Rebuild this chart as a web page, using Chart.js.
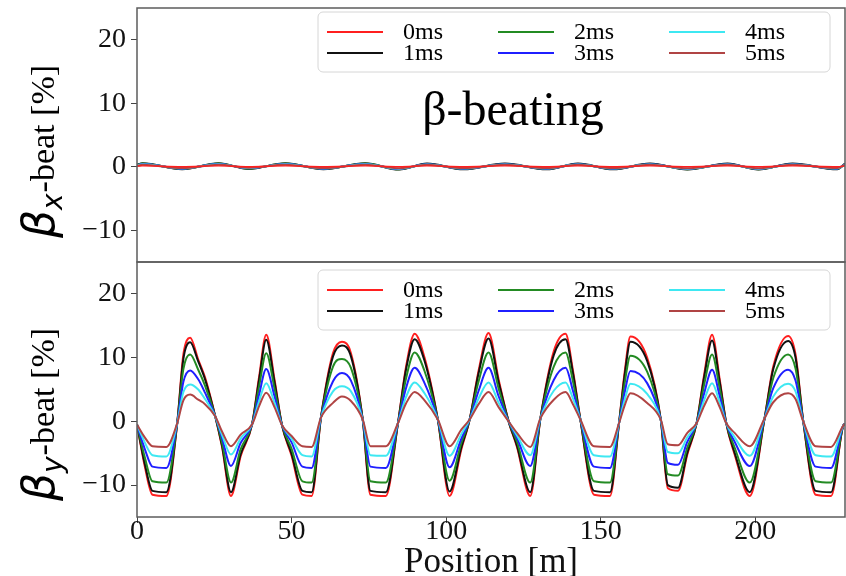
<!DOCTYPE html>
<html>
<head>
<meta charset="utf-8">
<script src="https://cdn.jsdelivr.net/npm/chart.js@4.4.0/dist/chart.umd.min.js"></script>
<style>
  html, body { margin: 0; padding: 0; background: #fff; }
  #wrap { position: relative; width: 846px; height: 576px; }
  #wrap canvas { position: absolute; left: 0; top: 0; }
</style>
</head>
<body>
<div id="wrap">
  <canvas id="topChart" width="846" height="576"></canvas>
  <canvas id="bottomChart" width="846" height="576"></canvas>
</div>
<script>
const seriesLabels = ['0ms', '1ms', '2ms', '3ms', '4ms', '5ms'];
const seriesColors = ['#ff1f1f', '#111111', '#238b23', '#1f1fff', '#3ee8f2', '#b04444'];
const xTicks = [0, 50, 100, 150, 200];
const yTicks = [-10, 0, 10, 20];

// top panel: horizontal beta-beating
const topPositions = [0, 1.8, 14.6, 26.4, 36.1, 48, 60.3, 73.8, 84.8, 93.8, 105.6, 119, 132.5, 142.6, 154, 165.9, 178, 191, 201, 212, 226.5, 229];
const betaX0ms = [0.1, 0.15, 0, 0.15, 0, 0.15, 0, 0.15, 0, 0.15, 0, 0.15, 0, 0.15, 0, 0.15, 0, 0.15, 0, 0.15, 0, 0.15];
const betaX1ms = [0.3, 0.55, -0.4, 0.55, -0.35, 0.55, -0.4, 0.55, -0.45, 0.5, -0.4, 0.5, -0.4, 0.5, -0.4, 0.5, -0.45, 0.5, -0.45, 0.5, -0.4, 0.5];
const betaX2ms = [0.3, 0.5, -0.35, 0.5, -0.3, 0.5, -0.35, 0.5, -0.4, 0.45, -0.35, 0.45, -0.35, 0.45, -0.35, 0.45, -0.4, 0.45, -0.4, 0.45, -0.35, 0.45];
const betaX3ms = [0.25, 0.45, -0.3, 0.45, -0.25, 0.45, -0.3, 0.45, -0.35, 0.4, -0.3, 0.4, -0.3, 0.4, -0.3, 0.4, -0.35, 0.4, -0.35, 0.4, -0.3, 0.4];
const betaX4ms = [0.2, 0.4, -0.25, 0.4, -0.2, 0.4, -0.25, 0.4, -0.3, 0.35, -0.25, 0.35, -0.25, 0.35, -0.25, 0.35, -0.3, 0.35, -0.3, 0.35, -0.25, 0.35];
const betaX5ms = [0.15, 0.3, -0.2, 0.3, -0.15, 0.3, -0.2, 0.3, -0.25, 0.3, -0.2, 0.3, -0.2, 0.3, -0.2, 0.3, -0.25, 0.3, -0.25, 0.3, -0.2, 0.3];

// bottom panel: vertical beta-beating
const bottomPositions = [0, 2.5, 5, 9.5, 13, 15, 17.2, 19.8, 22, 25.3, 27.5, 30.4, 33.5, 37.2, 39.5, 41.8, 44.5, 46.9, 50, 53.5,
  56.5, 59.5, 63.4, 66.3, 69.2, 73, 75.5, 80.5, 84.4, 87, 89.8, 93, 97.3, 101.1, 104.9, 107.6, 110.5, 113.7, 117, 120.2,
  122.9, 127.2, 130.5, 134.8, 138.6, 141, 143.4, 147.8, 153, 155.9, 157.8, 159.6, 165, 169.4, 171.7, 175, 178, 181, 183.5, 186,
  188.5, 190.6, 193.3, 198.2, 203, 205.8, 210.6, 213, 215.5, 219.5, 224.5, 228.4, 229];
const betaY0ms = [-0.5, -7.0, -11.5, -11.7, -0.3, 10.5, 13.1, 9.7, 6.9, 0.8, -4.0, -11.7, -5.5, -0.5, 7.0, 13.6, 6.5, -0.6, -5.4, -11.5,
  -11.7, 0.6, 10.7, 12.5, 10.7, 0.3, -11.5, -11.7, -0.3, 8.5, 13.75, 10.0, 0.3, -11.7, -4.4, 0.3, 8.0, 13.85, 6.5, 0,
  -4.0, -11.7, 0.5, 11.0, 13.75, 8.0, 0.3, -11.5, -11.7, -0.3, 8.0, 13.3, 10.0, 0.3, -10.5, -10.9, -5.2, -0.3, 7.5, 13.6,
  6.5, -0.3, -5.2, -11.7, 0.5, 8.6, 13.4, 10.5, 0, -11.5, -11.7, -0.7, -0.4];
const betaY1ms = [-0.5, -6.6, -10.9, -11.1, -0.3, 9.8, 12.4, 9.4, 6.6, 0.8, -3.8, -11.1, -5.2, -0.5, 6.6, 12.8, 6.1, -0.6, -5.1, -10.9,
  -11.1, 0.6, 10.2, 11.9, 10.2, 0.3, -10.9, -11.1, -0.3, 8.1, 12.9, 9.5, 0.3, -11.0, -4.1, 0.3, 7.6, 13.0, 6.1, 0,
  -3.8, -11.1, 0.5, 10.4, 12.9, 7.6, 0.3, -10.9, -11.1, -0.3, 7.5, 12.5, 9.5, 0.3, -10.0, -10.4, -4.9, -0.3, 7.1, 12.7,
  6.1, -0.3, -4.9, -11.1, 0.5, 8.2, 12.6, 10.0, 0, -10.9, -11.1, -0.7, -0.4];
const betaY2ms = [-0.5, -5.6, -9.4, -9.6, -0.3, 8.2, 10.5, 8.1, 5.6, 0.8, -3.3, -9.6, -4.4, -0.5, 5.5, 10.7, 5.1, -0.6, -4.3, -9.4,
  -9.6, 0.6, 8.6, 9.8, 8.4, 0.3, -9.4, -9.6, -0.3, 6.7, 10.8, 7.9, 0.3, -9.3, -3.4, 0.3, 6.3, 10.8, 5.1, 0,
  -3.2, -9.6, 0.5, 8.6, 10.8, 6.3, 0.3, -9.4, -9.6, -0.3, 6.2, 10.3, 7.8, 0.3, -8.3, -8.5, -4.1, -0.3, 5.9, 10.5,
  5.1, -0.3, -4.1, -9.6, 0.5, 6.8, 10.5, 8.3, 0, -9.4, -9.6, -0.7, -0.4];
const betaY3ms = [-0.5, -4.3, -7.1, -7.3, -0.3, 6.2, 8.0, 6.6, 4.5, 0.8, -2.6, -7.0, -3.4, -0.5, 4.2, 8.2, 3.9, -0.6, -3.3, -7.1,
  -7.3, 0.6, 6.3, 7.6, 6.4, 0.3, -7.1, -7.3, -0.3, 5.2, 8.4, 6.0, 0.3, -7.2, -2.7, 0.3, 4.8, 8.4, 3.9, 0,
  -2.6, -7.0, 0.5, 6.5, 8.4, 4.8, 0.3, -7.1, -7.3, -0.3, 4.7, 7.9, 6.0, 0.3, -6.5, -6.8, -3.2, -0.3, 4.5, 8.1,
  3.9, -0.3, -3.2, -7.0, 0.5, 5.2, 8.1, 6.4, 0, -7.1, -7.3, -0.7, -0.4];
const betaY4ms = [-0.5, -3.3, -5.3, -5.5, -0.3, 4.6, 5.8, 5.0, 3.5, 0.8, -2.1, -5.2, -2.7, -0.5, 3.2, 6.0, 2.9, -0.6, -2.7, -5.3,
  -5.5, 0.6, 4.7, 5.5, 4.7, 0.3, -5.3, -5.4, -0.3, 3.8, 6.1, 4.4, 0.3, -5.4, -2.0, 0.3, 3.6, 6.1, 2.9, 0,
  -2.2, -5.3, 0.5, 4.8, 6.1, 3.6, 0.3, -5.3, -5.5, -0.3, 3.5, 5.9, 4.3, 0.3, -4.8, -5.0, -2.5, -0.3, 3.4, 6.0,
  2.9, -0.3, -2.5, -5.4, 0.5, 3.9, 5.9, 4.7, 0, -5.3, -5.5, -0.7, -0.4];
const betaY5ms = [-0.5, -2.5, -3.9, -4.0, -0.3, 3.3, 4.2, 3.4, 2.7, 0.8, -1.6, -3.9, -2.1, -0.5, 2.4, 4.5, 2.2, -0.6, -2.3, -3.9,
  -4.0, 0.6, 2.9, 3.9, 3.2, 0.3, -3.9, -3.9, -0.3, 2.8, 4.6, 3.3, 0.3, -3.9, -1.3, 0.3, 2.7, 4.6, 2.2, 0,
  -1.8, -4.0, 0.5, 3.4, 4.6, 2.7, 0.3, -3.9, -4.0, -0.3, 2.6, 4.4, 2.9, 0.3, -3.6, -3.75, -1.8, -0.3, 2.5, 4.4,
  2.2, -0.3, -1.8, -3.9, 0.5, 3.0, 4.4, 3.5, 0, -3.9, -4.0, -0.7, -0.4];

const topSeries = [betaX0ms, betaX1ms, betaX2ms, betaX3ms, betaX4ms, betaX5ms];
const bottomSeries = [betaY0ms, betaY1ms, betaY2ms, betaY3ms, betaY4ms, betaY5ms];

const SERIF = '"Liberation Serif", "Times New Roman", serif';

function makeDatasets(positions, series, orders, widths) {
  return series.map((vals, i) => ({
    label: seriesLabels[i],
    data: positions.map((x, j) => ({ x: x, y: vals[j] })),
    borderColor: seriesColors[i],
    backgroundColor: seriesColors[i],
    borderWidth: widths[i],
    pointRadius: 0,
    cubicInterpolationMode: 'monotone',
    order: orders[i]
  }));
}

function fmtTick(v) {
  return v < 0 ? '\u2212' + Math.abs(v) : String(v);
}

function drawYTitle(ctx, cx, cy, sub) {
  ctx.save();
  ctx.translate(cx, cy);
  ctx.rotate(-Math.PI / 2);
  const fB = 'italic 44px "DejaVu Sans"';
  const fS = 'italic 28px "DejaVu Sans"';
  const fR = '34px ' + SERIF;
  ctx.font = fB; const wB = ctx.measureText('\u03b2').width;
  ctx.font = fS; const wS = ctx.measureText(sub).width;
  ctx.font = fR; const wR = ctx.measureText('-beat [%]').width;
  let x = -(wB + wS + wR) / 2;
  ctx.fillStyle = '#000';
  ctx.textBaseline = 'alphabetic';
  ctx.textAlign = 'left';
  ctx.font = fB; ctx.fillText('\u03b2', x, 12); x += wB;
  ctx.font = fS; ctx.fillText(sub, x, 20); x += wS + 1;
  ctx.font = fR; ctx.fillText('-beat [%]', x, 12);
  ctx.restore();
}

// frame, in-axes legend, panel text
const panelDecor = {
  id: 'panelDecor',
  afterDraw(chart, args, opts) {
    const { ctx, chartArea: a } = chart;
    ctx.save();
    ctx.strokeStyle = '#5c5c5c';
    ctx.lineWidth = 1.5;
    ctx.strokeRect(a.left, a.top, a.right - a.left, a.bottom - a.top);

    const bx = a.left + 181, by = a.top + opts.legendTop, bw = 512, bh = 60;
    ctx.beginPath();
    ctx.roundRect(bx, by, bw, bh, 5);
    ctx.fillStyle = 'rgba(255,255,255,0.85)';
    ctx.fill();
    ctx.strokeStyle = '#d6d6d6';
    ctx.lineWidth = 1;
    ctx.stroke();

    ctx.font = '24px ' + SERIF;
    ctx.textBaseline = 'middle';
    ctx.textAlign = 'left';
    chart.data.datasets.forEach((ds, i) => {
      const col = Math.floor(i / 2), row = i % 2;
      const ly = by + 20 + row * 21;
      const lx = bx + 9 + col * 171;
      ctx.strokeStyle = ds.borderColor;
      ctx.lineWidth = 2;
      ctx.beginPath();
      ctx.moveTo(lx, ly);
      ctx.lineTo(lx + 56, ly);
      ctx.stroke();
      ctx.fillStyle = '#000';
      ctx.fillText(ds.label, bx + 85 + col * 171, ly + 1);
    });

    if (opts.title) {
      ctx.font = '48px ' + SERIF;
      ctx.textAlign = 'center';
      ctx.fillStyle = '#000';
      ctx.fillText(opts.title, 513, 112);
    }
    drawYTitle(ctx, 42, opts.yTitleY, opts.yTitleSub);
    ctx.restore();
  }
};

function yScale() {
  return {
    min: -15,
    max: 25,
    afterBuildTicks: s => { s.ticks = yTicks.map(v => ({ value: v })); },
    afterFit: s => { s.width = 137; s.paddingTop = 0; s.paddingBottom = 0; },
    ticks: { callback: fmtTick, color: '#111', padding: 5, font: { family: SERIF, size: 28 } },
    grid: { drawOnChartArea: false, drawTicks: true, tickLength: 6, color: '#444' },
    border: { display: false }
  };
}

new Chart(document.getElementById('topChart'), {
  type: 'line',
  data: { datasets: makeDatasets(topPositions, topSeries, [0, 6, 5, 4, 3, 2], [1.3, 2, 2, 2, 2, 2]) },
  options: {
    responsive: false,
    animation: false,
    layout: { padding: { top: 8, right: 1, bottom: 314, left: 0 } },
    scales: {
      x: { type: 'linear', min: 0, max: 229, display: false },
      y: yScale()
    },
    plugins: {
      legend: { display: false },
      tooltip: { enabled: false },
      panelDecor: { legendTop: 4, title: '\u03b2-beating', yTitleSub: 'x', yTitleY: 152 }
    }
  },
  plugins: [panelDecor]
});

new Chart(document.getElementById('bottomChart'), {
  type: 'line',
  data: { datasets: makeDatasets(bottomPositions, bottomSeries, [6, 5, 4, 3, 2, 1], [2, 2, 2, 2, 2, 2]) },
  options: {
    responsive: false,
    animation: false,
    layout: { padding: { top: 262, right: 1, bottom: 0, left: 0 } },
    scales: {
      x: {
        type: 'linear',
        min: 0,
        max: 229,
        afterBuildTicks: s => { s.ticks = xTicks.map(v => ({ value: v })); },
        afterFit: s => { s.height = 59; s.paddingLeft = 0; s.paddingRight = 0; },
        ticks: { color: '#111', padding: -8, maxRotation: 0, font: { family: SERIF, size: 28 } },
        grid: { drawOnChartArea: false, drawTicks: true, tickLength: 6, color: '#444' },
        border: { display: false },
        title: { display: true, text: 'Position [m]', color: '#111', padding: { top: 0, bottom: -4 },
                 font: { family: SERIF, size: 35, lineHeight: 1.0 } }
      },
      y: yScale()
    },
    plugins: {
      legend: { display: false },
      tooltip: { enabled: false },
      panelDecor: { legendTop: 8, yTitleSub: 'y', yTitleY: 415 }
    }
  },
  plugins: [panelDecor]
});
</script>
</body>
</html>
